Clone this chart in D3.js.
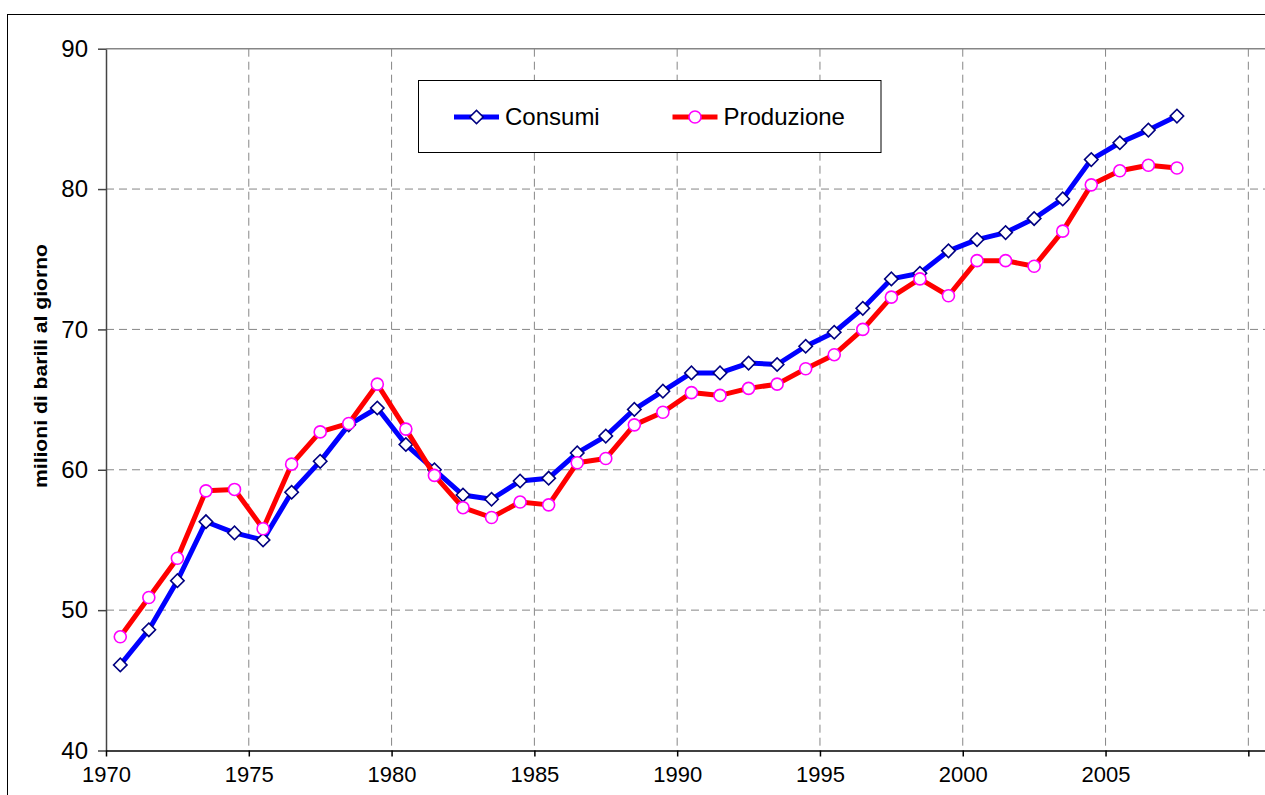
<!DOCTYPE html>
<html>
<head>
<meta charset="utf-8">
<script src="https://cdn.jsdelivr.net/npm/d3@7"></script>
<style>
  body { margin: 0; background: #fff; }
  svg { display: block; font-family: "Liberation Sans", Arial, sans-serif; }
</style>
</head>
<body>
<svg id="chart"></svg>
<script>
// anni (i punti sono a metà anno)
const years = [1970, 1971, 1972, 1973, 1974, 1975, 1976, 1977, 1978, 1979,
               1980, 1981, 1982, 1983, 1984, 1985, 1986, 1987, 1988, 1989,
               1990, 1991, 1992, 1993, 1994, 1995, 1996, 1997, 1998, 1999,
               2000, 2001, 2002, 2003, 2004, 2005, 2006, 2007];

// milioni di barili al giorno
const consumi = [46.1, 48.6, 52.1, 56.3, 55.5, 55.0, 58.4, 60.6, 63.2, 64.4,
                 61.8, 60.0, 58.2, 57.9, 59.2, 59.4, 61.2, 62.4, 64.3, 65.6,
                 66.9, 66.9, 67.6, 67.5, 68.8, 69.8, 71.5, 73.6, 74.0, 75.6,
                 76.4, 76.9, 77.9, 79.3, 82.1, 83.3, 84.2, 85.2];
const produzione = [48.1, 50.9, 53.7, 58.5, 58.6, 55.8, 60.4, 62.7, 63.3, 66.1,
                    62.9, 59.6, 57.3, 56.6, 57.7, 57.5, 60.5, 60.8, 63.2, 64.1,
                    65.5, 65.3, 65.8, 66.1, 67.2, 68.2, 70.0, 72.3, 73.6, 72.4,
                    74.9, 74.9, 74.5, 77.0, 80.3, 81.3, 81.7, 81.5];

const yTicks = [40, 50, 60, 70, 80, 90];
const xTicks = [1970, 1975, 1980, 1985, 1990, 1995, 2000, 2005, 2010];

const W = 1265, H = 795;
const margin = { top: 48.7, left: 106, bottom: 44.5 };
const height = H - margin.top - margin.bottom;

const svg = d3.select("#chart").attr("width", W).attr("height", H);

// cornice esterna (tagliata a destra e in basso)
svg.append("rect")
    .attr("x", 7.5).attr("y", 14.5)
    .attr("width", 1400).attr("height", 900)
    .attr("fill", "#fff").attr("stroke", "#000").attr("stroke-width", 1);

const g = svg.append("g").attr("transform", `translate(${margin.left},${margin.top})`);

// l'area del grafico prosegue oltre il bordo destro
const x = d3.scaleLinear().domain([1970, 2011]).range([0, 1170.9]);
const y = d3.scaleLinear().domain([40, 90]).range([height, 0]);

// griglia orizzontale
g.selectAll(".hgrid")
    .data(yTicks.filter(d => d > 40 && d < 90))
    .enter().append("line")
    .attr("x1", 0).attr("x2", x(2011))
    .attr("y1", d => y(d)).attr("y2", d => y(d))
    .attr("stroke", "#868686").attr("stroke-width", 1)
    .attr("stroke-dasharray", "8,5");

// griglia verticale
g.selectAll(".vgrid")
    .data(xTicks.filter(d => d > 1970))
    .enter().append("line")
    .attr("x1", d => x(d)).attr("x2", d => x(d))
    .attr("y1", 0).attr("y2", height)
    .attr("stroke", "#868686").attr("stroke-width", 1)
    .attr("stroke-dasharray", "8,5");

// bordo superiore dell'area
g.append("line")
    .attr("x1", 0).attr("x2", x(2011))
    .attr("y1", 0).attr("y2", 0)
    .attr("stroke", "#868686").attr("stroke-width", 1.5);

// assi
const yAxis = g.append("g")
    .call(d3.axisLeft(y).tickValues(yTicks).tickSize(8).tickPadding(10).tickSizeOuter(0));
yAxis.select(".domain").attr("stroke", "#444").attr("stroke-width", 1.5);
yAxis.selectAll(".tick line").attr("stroke", "#444").attr("stroke-width", 1.5);
yAxis.selectAll("text").attr("font-size", "24px").attr("fill", "#000")
    .attr("font-family", "'Liberation Sans', Arial, sans-serif");

const xAxis = g.append("g")
    .attr("transform", `translate(0,${height})`)
    .call(d3.axisBottom(x).tickValues(xTicks).tickSize(6).tickPadding(10).tickSizeOuter(0)
        .tickFormat(d => d === 2010 ? "" : d));
xAxis.select(".domain").attr("stroke", "#000").attr("stroke-width", 1.5);
xAxis.selectAll(".tick line").attr("stroke", "#000").attr("stroke-width", 1.5);
xAxis.selectAll("text").attr("font-size", "22px").attr("fill", "#000")
    .attr("font-family", "'Liberation Sans', Arial, sans-serif");

// titolo asse Y
svg.append("text")
    .attr("transform", "rotate(-90)")
    .attr("x", -366).attr("y", 40)
    .attr("dy", "0.35em")
    .attr("textLength", 244)
    .attr("lengthAdjust", "spacingAndGlyphs")
    .style("text-anchor", "middle")
    .style("font-size", "19px")
    .style("font-weight", "bold")
    .text("milioni di barili al giorno");

const series = [
    { name: "Consumi", values: consumi, color: "#0000ff", marker: "diamond", mstroke: "#000080" },
    { name: "Produzione", values: produzione, color: "#ff0000", marker: "circle", mstroke: "#ff00ff" }
];

const line = d3.line()
    .x((d, i) => x(years[i] + 0.5))
    .y(d => y(d));

const diamond = d3.symbol().type(d3.symbolSquare).size(90);

function drawMarker(sel, s) {
    if (s.marker === "diamond") {
        sel.append("path")
            .attr("d", diamond())
            .attr("transform", d => `${d.t} rotate(45)`)
            .attr("fill", "#fff").attr("stroke", s.mstroke).attr("stroke-width", 1.6);
    } else {
        sel.append("circle")
            .attr("r", 6)
            .attr("transform", d => d.t)
            .attr("fill", "#fff").attr("stroke", s.mstroke).attr("stroke-width", 1.6);
    }
}

series.forEach(s => {
    g.append("path")
        .datum(s.values)
        .attr("fill", "none")
        .attr("stroke", s.color)
        .attr("stroke-width", 5)
        .attr("stroke-linejoin", "round")
        .attr("d", line);

    const pts = g.append("g")
        .selectAll("g")
        .data(s.values.map((v, i) => ({ t: `translate(${x(years[i] + 0.5)},${y(v)})` })))
        .enter().append("g");
    drawMarker(pts, s);
});

// legenda
const legend = svg.append("g").attr("transform", "translate(418.5,80.5)");
legend.append("rect")
    .attr("width", 462.5).attr("height", 72)
    .attr("fill", "#fff").attr("stroke", "#000").attr("stroke-width", 1);

const legendX = [35.5, 254];
series.forEach((s, i) => {
    const item = legend.append("g").attr("transform", `translate(${legendX[i]},36.5)`);
    item.append("line")
        .attr("x1", 0).attr("x2", 45)
        .attr("stroke", s.color).attr("stroke-width", 5);
    const m = item.append("g").data([{ t: "translate(22.5,0)" }]);
    drawMarker(m, s);
    item.append("text")
        .attr("x", 51).attr("dy", "0.35em")
        .style("font-size", "24px")
        .text(s.name);
});
</script>
</body>
</html>
